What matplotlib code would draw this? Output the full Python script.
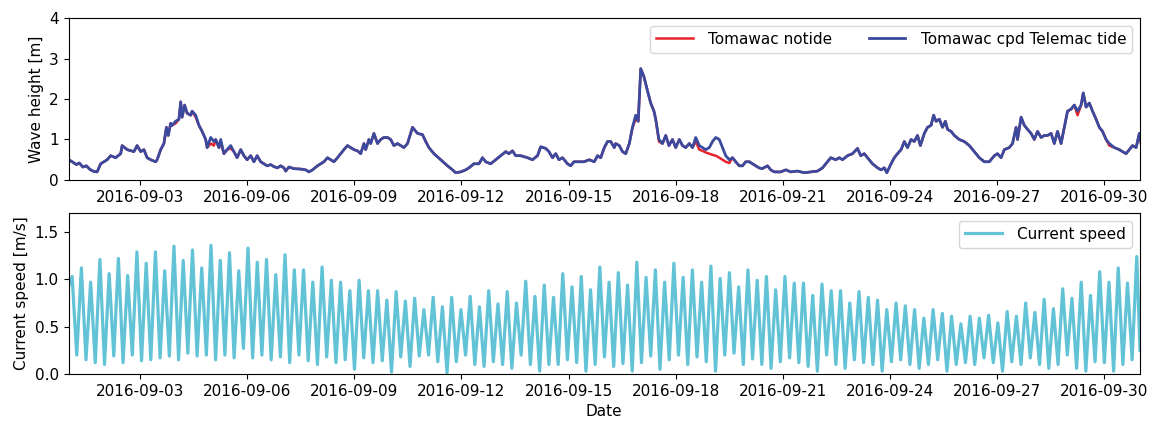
import numpy as np
import matplotlib
matplotlib.use("Agg")
import matplotlib.pyplot as plt
import matplotlib.dates as mdates

start = np.datetime64("2016-09-01T00:00")

# wave height samples: days since 2016-09-01, height in m
wave_days = [
    0.01, 0.12, 0.22, 0.30, 0.40, 0.50, 0.60, 0.71, 0.80, 0.90, 1.08, 1.18, 1.32, 1.46,
    1.50, 1.64, 1.83, 1.92, 2.02, 2.11,
    2.20, 2.30, 2.44, 2.48, 2.58, 2.67, 2.74, 2.79, 2.86, 2.90, 3.00, 3.09, 3.14, 3.18,
    3.25, 3.32, 3.42, 3.46, 3.56, 3.65, 3.74, 3.84, 3.88, 3.98, 4.07, 4.12, 4.21, 4.26,
    4.35, 4.44, 4.54, 4.63, 4.72, 4.82, 4.91, 5.00, 5.10, 5.19, 5.28, 5.38, 5.47, 5.56,
    5.66, 5.75, 5.85, 5.94, 6.03, 6.08, 6.17, 6.31, 6.50, 6.64, 6.73, 6.83, 6.97, 7.06,
    7.15, 7.25, 7.34, 7.43, 7.53, 7.62, 7.71, 7.81, 7.90, 7.99, 8.09, 8.18, 8.27, 8.32,
    8.41, 8.46, 8.55, 8.65, 8.74, 8.83, 8.93, 9.02, 9.11, 9.21, 9.30,
    9.39, 9.49, 9.63, 9.77, 9.91, 10.00, 10.09, 10.23, 10.42, 10.61, 10.75, 10.84, 10.98,
    11.12, 11.21, 11.35, 11.49, 11.59, 11.68, 11.82, 11.96, 12.10, 12.24, 12.33, 12.43,
    12.52, 12.66, 12.85, 12.99, 13.13, 13.22, 13.36, 13.45, 13.55, 13.64, 13.73, 13.83,
    13.97, 14.06, 14.15, 14.29, 14.43, 14.58, 14.72, 14.81, 14.90, 15.00, 15.09, 15.18,
    15.28, 15.32, 15.42, 15.51, 15.60, 15.70, 15.79, 15.88, 15.95, 16.02, 16.11, 16.21,
    16.30, 16.39, 16.44, 16.53, 16.63, 16.72, 16.81, 16.91, 17.00, 17.10, 17.19, 17.28,
    17.38, 17.47, 17.56, 17.66, 17.75, 17.84, 17.94, 18.03, 18.12, 18.22, 18.31, 18.40,
    18.50, 18.59, 18.68, 18.78, 18.87, 18.96, 19.06, 19.15, 19.24, 19.33, 19.42, 19.57,
    19.66, 19.76,
    19.94, 20.08, 20.22, 20.41, 20.60, 20.78, 20.97, 21.11, 21.25, 21.34, 21.48, 21.58,
    21.67, 21.81, 21.95, 22.09, 22.18, 22.28, 22.37, 22.51, 22.65, 22.75, 22.84, 22.91,
    23.03, 23.12, 23.21, 23.31, 23.40, 23.49, 23.59, 23.68, 23.77, 23.85, 23.96, 24.05,
    24.15, 24.22, 24.29, 24.38, 24.47, 24.55, 24.61, 24.71, 24.80, 24.94, 25.08, 25.22,
    25.36, 25.50, 25.64, 25.78, 25.92, 26.01, 26.11, 26.20, 26.34, 26.43, 26.53, 26.57,
    26.67, 26.76, 26.85, 26.95, 27.04, 27.13, 27.23, 27.32, 27.41, 27.51, 27.60, 27.69,
    27.79, 27.88, 27.97, 28.07, 28.16, 28.25, 28.35, 28.41, 28.49, 28.58, 28.67, 28.77,
    28.86, 28.95, 29.05, 29.14, 29.28, 29.42, 29.51, 29.61, 29.70, 29.79, 29.89, 29.98,
    30.03,
]
wave_tide = [
    0.50, 0.44, 0.38, 0.42, 0.32, 0.35, 0.26, 0.21, 0.20, 0.40, 0.50, 0.60, 0.55, 0.65,
    0.85, 0.75, 0.70, 0.85, 0.70, 0.75,
    0.55, 0.50, 0.45, 0.50, 0.75, 0.90, 1.30, 1.10, 1.40, 1.35, 1.45, 1.50, 1.93, 1.55,
    1.85, 1.65, 1.60, 1.70, 1.60, 1.35, 1.20, 1.00, 0.80, 1.05, 0.95, 1.00, 0.80, 1.00,
    0.65, 0.75, 0.85, 0.70, 0.55, 0.75, 0.60, 0.50, 0.60, 0.45, 0.60, 0.45, 0.40, 0.35,
    0.38, 0.33, 0.30, 0.35, 0.30, 0.22, 0.32, 0.28, 0.27, 0.25, 0.20, 0.25, 0.35, 0.40,
    0.45, 0.55, 0.50, 0.45, 0.55, 0.65, 0.75, 0.85, 0.80, 0.75, 0.72, 0.65, 0.90, 0.75,
    1.00, 0.90, 1.15, 0.90, 1.00, 1.05, 1.05, 1.00, 0.85, 0.90, 0.85,
    0.80, 0.90, 1.30, 1.15, 1.12, 0.95, 0.80, 0.65, 0.50, 0.35, 0.25, 0.18, 0.20,
    0.25, 0.30, 0.40, 0.40, 0.55, 0.45, 0.40, 0.50, 0.60, 0.70, 0.65, 0.72,
    0.60, 0.60, 0.55, 0.50, 0.60, 0.82, 0.78, 0.70, 0.55, 0.65, 0.50, 0.55,
    0.40, 0.35, 0.45, 0.45, 0.45, 0.50, 0.45, 0.60, 0.55, 0.80, 0.95, 0.95,
    0.80, 0.90, 0.85, 0.70, 0.65, 0.90, 1.30, 1.60, 1.45, 2.75, 2.55, 2.20,
    1.90, 1.70, 1.50, 1.00, 0.90, 1.10, 0.85, 1.00, 0.80, 1.00, 0.85, 0.80,
    0.90, 0.80, 1.05, 0.85, 0.80, 0.75, 0.80, 0.95, 1.05, 1.00, 0.80, 0.60,
    0.50, 0.55, 0.45, 0.35, 0.35, 0.45, 0.45, 0.40, 0.35, 0.30, 0.28, 0.35,
    0.25, 0.20,
    0.20, 0.25, 0.20, 0.22, 0.18, 0.20, 0.22, 0.30, 0.45, 0.55, 0.50, 0.55,
    0.50, 0.60, 0.65, 0.78, 0.60, 0.65, 0.55, 0.40, 0.30, 0.25, 0.30, 0.18,
    0.40, 0.55, 0.65, 0.75, 0.95, 0.80, 1.00, 0.95, 1.10, 0.85, 1.15, 1.30,
    1.35, 1.60, 1.45, 1.50, 1.30, 1.45, 1.25, 1.20, 1.10, 1.00, 0.95, 0.85,
    0.70, 0.55, 0.45, 0.45, 0.60, 0.65, 0.55, 0.75, 0.80, 0.90, 1.30, 1.00,
    1.55, 1.35, 1.25, 1.15, 1.00, 1.20, 1.05, 1.10, 1.10, 1.15, 0.90, 1.20,
    0.90, 1.30, 1.70, 1.75, 1.85, 1.70, 1.85, 2.15, 1.80, 1.90, 1.70, 1.50,
    1.30, 1.20, 1.00, 0.90, 0.80, 0.75, 0.70, 0.65, 0.75, 0.85, 0.80, 1.15,
    0.90,
]
# run without tide: only differs from the coupled run at these samples
notide_diff = {
    3.00: 1.40, 3.56: 1.55, 3.98: 0.90, 4.07: 0.85, 4.26: 0.92, 4.54: 0.78,
    15.88: 1.50, 16.53: 0.95, 17.56: 0.95, 17.66: 0.75, 17.75: 0.72,
    17.84: 0.68, 17.94: 0.65, 18.03: 0.62, 18.12: 0.60, 18.22: 0.55,
    18.31: 0.50, 18.40: 0.45, 18.50: 0.42, 28.25: 1.60, 29.14: 0.85,
}
wave_notide = [notide_diff.get(d, h) for d, h in zip(wave_days, wave_tide)]

# current speed: successive flood/ebb maxima and the slack minima between them
tide_first = 0.10      # day of first maximum
tide_step = 0.2592     # days between maxima (half an M2 period)
speed_peaks = [
    1.03, 1.12, 0.97, 1.21, 1.06, 1.22, 1.04, 1.29, 1.17, 1.29, 1.09, 1.35,
    1.20, 1.31, 1.12, 1.36, 1.20, 1.28, 1.09, 1.33, 1.18, 1.21, 1.05, 1.26,
    1.10, 1.10, 0.97, 1.13, 0.99, 0.97, 0.88, 0.99, 0.88, 0.88, 0.78, 0.87,
    0.77, 0.80, 0.68, 0.81, 0.71, 0.81, 0.68, 0.82, 0.71, 0.88, 0.74, 0.87,
    0.75, 0.98, 0.82, 0.94, 0.81, 1.06, 0.92, 1.03, 0.89, 1.13, 0.97, 1.07,
    0.94, 1.18, 1.02, 1.10, 0.97, 1.17, 1.02, 1.10, 0.97, 1.14, 1.01, 1.07,
    0.92, 1.10, 0.99,
    1.03, 0.89, 1.03, 0.96, 0.96, 0.83, 0.95, 0.88, 0.88, 0.75, 0.87, 0.81,
    0.78, 0.68, 0.75, 0.72, 0.68, 0.59, 0.68, 0.64, 0.61, 0.53, 0.61, 0.59,
    0.62, 0.54, 0.66, 0.61, 0.75, 0.65, 0.79, 0.69, 0.90, 0.80, 0.97, 0.83,
    1.08, 0.97, 1.12, 0.96, 1.24,
]
speed_slack = [
    0.20, 0.15, 0.12, 0.10, 0.19, 0.12, 0.20, 0.14, 0.15, 0.17, 0.19, 0.15,
    0.22, 0.19, 0.20, 0.15, 0.20, 0.17, 0.27, 0.17, 0.20, 0.15, 0.18, 0.12,
    0.20, 0.14, 0.10, 0.18, 0.12, 0.15, 0.05, 0.17, 0.12, 0.14, 0.02,
    0.18, 0.08, 0.19, 0.20, 0.13, 0.01, 0.13, 0.20, 0.10, 0.08, 0.13, 0.10,
    0.06, 0.20, 0.10, 0.03, 0.10, 0.10, 0.15, 0.12, 0.03, 0.10, 0.18, 0.08,
    0.11, 0.03, 0.12, 0.19, 0.05, 0.15, 0.20, 0.10, 0.18, 0.13, 0.03, 0.20,
    0.22, 0.10, 0.16,
    0.10, 0.06, 0.13, 0.17, 0.12, 0.08, 0.03, 0.20, 0.10, 0.06, 0.15, 0.12,
    0.10, 0.03, 0.13, 0.15, 0.10, 0.06, 0.10, 0.15, 0.03, 0.10, 0.12, 0.10,
    0.17, 0.12, 0.03, 0.13, 0.10, 0.17, 0.10, 0.06, 0.10, 0.20, 0.06, 0.03,
    0.13, 0.12, 0.03, 0.10, 0.15,
]
speed_start, speed_end = 0.92, 0.25


def to_dates(days):
    return start + (np.asarray(days) * 86400).astype("timedelta64[s]")


# interleave maxima and slack values on their time grid
n = len(speed_peaks)
speed_days = [0.0]
speed = [speed_start]
for i in range(n):
    speed_days.append(tide_first + i * tide_step)
    speed.append(speed_peaks[i])
    if i < n - 1:
        speed_days.append(tide_first + (i + 0.5) * tide_step)
        speed.append(speed_slack[i])
speed_days.append(30.0)
speed.append(speed_end)

plt.rcParams["font.size"] = 11
fig = plt.figure(figsize=(11.54, 4.24), dpi=100)
ax1 = fig.add_axes([0.0594, 0.5755, 0.9285, 0.382])
ax2 = fig.add_axes([0.0594, 0.1179, 0.9285, 0.3797])

ax1.plot(to_dates(wave_days), wave_notide, color="#e8232b", lw=1.8,
         label="Tomawac notide")
ax1.plot(to_dates(wave_days), wave_tide, color="#3a4a9e", lw=2.0,
         label="Tomawac cpd Telemac tide")
ax1.set_ylim(0, 4)
ax1.set_yticks([0, 1, 2, 3, 4])
ax1.set_ylabel("Wave height [m]")
ax1.legend(loc="upper right", ncol=2, handlelength=2.4, handletextpad=1.0,
           columnspacing=2.4)

ax2.plot(to_dates(speed_days), speed, color="#62c2d6", lw=2.3,
         label="Current speed")
ax2.set_ylim(0, 1.7)
ax2.set_yticks([0.0, 0.5, 1.0, 1.5])
ax2.set_ylabel("Current speed [m/s]")
ax2.set_xlabel("Date")
ax2.legend(loc="upper right", handlelength=2.4, handletextpad=1.0)

for ax in (ax1, ax2):
    ax.set_xlim(np.datetime64("2016-09-01"), np.datetime64("2016-10-01"))
    ax.xaxis.set_major_locator(mdates.DayLocator(bymonthday=range(3, 31, 3)))
    ax.xaxis.set_major_formatter(mdates.DateFormatter("%Y-%m-%d"))

fig.savefig("out.png")
